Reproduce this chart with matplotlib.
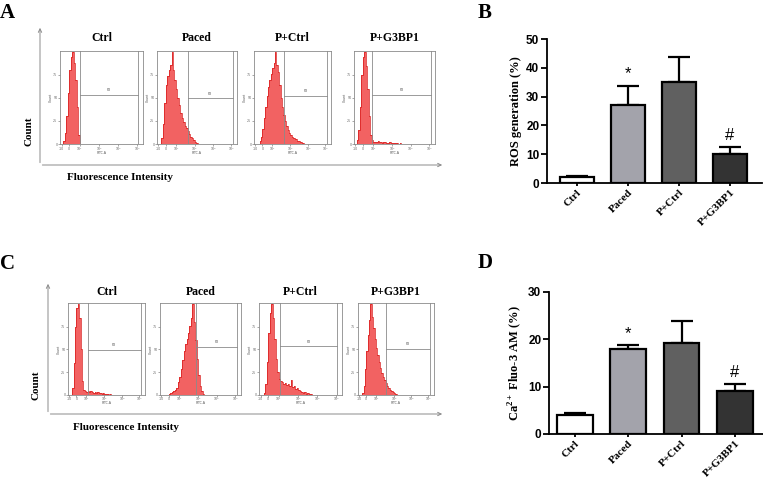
import numpy as np
import matplotlib
matplotlib.use("Agg")
import matplotlib.pyplot as plt

# ── figure geometry (pixels) ─────────────────────────────────────────────────
W, H = 763, 480
SERIF = "Liberation Serif"
SANS = "Liberation Sans"

# ── bar chart data ───────────────────────────────────────────────────────────
GROUPS = ["Ctrl", "Paced", "P+Ctrl", "P+G3BP1"]
ROS_MEAN = [2.0, 27.2, 35.2, 10.0]
ROS_ERR = [0.5, 6.6, 8.6, 2.5]
CA_MEAN = [4.1, 17.9, 19.2, 9.0]
CA_ERR = [0.4, 0.9, 4.6, 1.6]
SIG_MARKS = ["", "*", "", "#"]
BAR_COLORS = ["#ffffff", "#a3a3ab", "#606060", "#333333"]

# ── flow histograms: counts on 0.1-wide bins from 0 to 3.6 (log units) ──────
HIST_A_CTRL = [0, 3, 12, 30, 55, 80, 95, 100, 88, 70, 40, 10, 0, 0, 0, 0, 0, 0,
               0, 0, 0, 0, 0, 0, 0, 0, 0, 0, 0, 0, 0, 0, 0, 0, 0, 0]
HIST_A_PACED = [0, 0, 6, 22, 44, 64, 74, 80, 86, 100, 80, 70, 60, 50, 42, 34, 28, 24,
                20, 17, 14, 11, 8, 6, 4, 2, 1, 0, 0, 0, 0, 0, 0, 0, 0, 0]
HIST_A_PCTRL = [0, 0, 0, 3, 8, 16, 28, 40, 52, 62, 70, 76, 82, 88, 100, 86, 78, 64,
                50, 40, 31, 25, 20, 15, 12, 10, 8, 7, 5, 5, 3, 3, 2, 1, 1, 0]
HIST_A_PG3 = [0, 4, 15, 40, 75, 95, 100, 85, 60, 30, 10, 4, 2, 2, 2, 3, 2, 2,
              1, 2, 2, 1, 1, 2, 1, 1, 1, 1, 1, 0, 1, 0, 0, 0, 0, 0]
HIST_C_CTRL = [0, 0, 8, 35, 75, 95, 100, 85, 50, 15, 6, 4, 3, 4, 3, 4, 3, 2,
               3, 2, 3, 2, 2, 1, 2, 1, 1, 1, 0, 1, 0, 0, 0, 0, 0, 0]
HIST_C_PACED = [0, 0, 0, 0, 0, 1, 2, 3, 4, 5, 8, 14, 20, 28, 38, 48, 56, 62,
                68, 76, 84, 100, 80, 60, 40, 22, 10, 4, 1, 0, 0, 0, 0, 0, 0, 0]
HIST_C_PCTRL = [0, 0, 2, 12, 36, 68, 90, 100, 84, 62, 40, 25, 18, 15, 14, 12, 13, 11,
                12, 10, 16, 9, 10, 7, 8, 5, 4, 3, 2, 3, 1, 2, 1, 1, 0, 0]
HIST_C_PG3 = [0, 0, 2, 10, 28, 48, 66, 82, 100, 86, 74, 62, 52, 44, 36, 30, 24, 20,
              16, 13, 10, 8, 6, 4, 3, 2, 1, 0, 0, 0, 0, 0, 0, 0, 0, 0]
GATE_A = [1.2, 2.0, 2.05, 1.15]
GATE_C = [1.3, 2.35, 1.3, 1.9]
HLINE_A = [0.53, 0.49, 0.52, 0.53]
HLINE_C = [0.49, 0.52, 0.53, 0.50]
FLOW_TICKS = [0.0, 0.5, 1.2, 2.5, 3.75, 5.0]
FLOW_TICKLABELS = ["-10", "0", "10¹", "10²", "10³", "10⁴"]

FILL = "#f26262"
EDGE = "#d81818"
GREY = "#8a8a8a"

fig = plt.figure(figsize=(W / 100, H / 100), dpi=100)


def px_axes(left, top, right, bottom):
    return fig.add_axes([left / W, 1 - bottom / H, (right - left) / W, (bottom - top) / H])


# overlay in pixel coordinates for labels and arrows
ov = fig.add_axes([0, 0, 1, 1])
ov.set_xlim(0, W)
ov.set_ylim(H, 0)
ov.axis("off")


def flow_panel(left, top, right, bottom, counts, gate, hline):
    ax = px_axes(left, top, right, bottom)
    edges = np.round(np.arange(len(counts) + 1) * 0.1, 2)
    ax.stairs(counts, edges, fill=True, facecolor=FILL, edgecolor="none")
    ax.stairs(counts, edges, baseline=None, color=EDGE, lw=0.5)
    ax.set_xlim(-0.1, 5.4)
    ax.set_ylim(0, 101)
    ax.axvline(gate, color=GREY, lw=0.6)
    ax.axvline(5.1, color=GREY, lw=0.6)
    ax.plot([gate, 5.1], [hline * 101] * 2, color=GREY, lw=0.6)
    ax.text((gate + 5.1) / 2, hline * 101 + 3, "P2", fontsize=2.5, color="#555",
            ha="center", va="bottom")
    for s in ax.spines.values():
        s.set_color(GREY)
        s.set_linewidth(0.6)
    ax.set_xticks(FLOW_TICKS)
    ax.set_xticklabels(FLOW_TICKLABELS)
    ax.set_yticks([0, 25, 50, 75])
    ax.set_yticklabels(["0", "25", "50", "75"])
    ax.tick_params(labelsize=2.3, length=1.2, width=0.4, pad=0.6, colors="#666")
    ax.set_xlabel("FITC-A", fontsize=2.3, labelpad=0, color="#555")
    ax.set_ylabel("Count", fontsize=2.3, labelpad=0.5, color="#555")
    return ax


def flow_row(boxes, top, bottom, hists, gates, hlines, title_y):
    for (l, r), h, g, hl, name in zip(boxes, hists, gates, hlines, GROUPS):
        flow_panel(l, top, r, bottom, h, g, hl)
        ov.text((l + r) / 2, title_y, name, fontsize=8.5, fontweight="bold",
                family=SERIF, ha="center", va="center")


def arrows(x0, y_top, y0, x_end):
    style = dict(arrowstyle="->,head_length=0.25,head_width=0.12", color=GREY, lw=0.7)
    ov.annotate("", xy=(x0, y_top), xytext=(x0, y0 + 0.4), arrowprops=style)
    ov.annotate("", xy=(x_end, y0), xytext=(x0 - 0.4, y0), arrowprops=style)


def bar_panel(left, top, right, bottom, means, errs, ymax, yticks, ylabel, xlim):
    ax = px_axes(left, top, right, bottom)
    x = np.arange(len(GROUPS))
    ax.bar(x, means, width=0.67, color=BAR_COLORS, edgecolor="k", linewidth=1.6, zorder=3)
    ax.errorbar(x, means, yerr=[np.zeros(len(errs)), errs], fmt="none", ecolor="k",
                elinewidth=1.6, capsize=8, capthick=1.6, zorder=2)
    for xi, m, e, mk in zip(x, means, errs, SIG_MARKS):
        if mk:
            ax.annotate(mk, (xi, m + e), xytext=(0, 3), textcoords="offset points",
                        ha="center", va="bottom", fontsize=12, family=SANS)
    ax.set_xlim(*xlim)
    ax.set_ylim(0, ymax)
    ax.set_yticks(yticks)
    ax.set_xticks(x)
    ax.set_xticklabels(GROUPS, rotation=45, ha="right", va="top", rotation_mode="anchor",
                       fontsize=8, fontweight="bold", family=SERIF)
    for lab in ax.get_yticklabels():
        lab.set_fontweight("bold")
        lab.set_family(SANS)
        lab.set_fontsize(8.5)
    ax.spines[["top", "right"]].set_visible(False)
    ax.spines[["left", "bottom"]].set_linewidth(1.3)
    ax.tick_params(axis="y", length=4, width=1.3, pad=1.5)
    ax.tick_params(axis="x", length=2.5, width=1.3, pad=1)
    ax.set_ylabel(ylabel, fontsize=9, fontweight="bold", family=SERIF, labelpad=3)
    return ax


plt.rcParams["mathtext.fontset"] = "custom"
plt.rcParams["mathtext.rm"] = SERIF
plt.rcParams["mathtext.bf"] = SERIF + ":bold"

# ── Panel A ──────────────────────────────────────────────────────────────────
flow_row([(60, 143), (157, 237), (254, 331), (354, 435)], 51, 144,
         [HIST_A_CTRL, HIST_A_PACED, HIST_A_PCTRL, HIST_A_PG3], GATE_A, HLINE_A, 38)
arrows(40, 25, 165, 445)
ov.text(29, 131, "Count", rotation=90, fontsize=8, fontweight="bold", family=SERIF,
        ha="center", va="center")
ov.text(120, 178, "Fluorescence Intensity", fontsize=8, fontweight="bold", family=SERIF,
        ha="center", va="center")

# ── Panel C ──────────────────────────────────────────────────────────────────
flow_row([(68, 145), (160, 241), (259, 342), (358, 434)], 303, 395,
         [HIST_C_CTRL, HIST_C_PACED, HIST_C_PCTRL, HIST_C_PG3], GATE_C, HLINE_C, 292)
arrows(48, 281, 414, 445)
ov.text(36, 385, "Count", rotation=90, fontsize=8, fontweight="bold", family=SERIF,
        ha="center", va="center")
ov.text(126, 427, "Fluorescence Intensity", fontsize=8, fontweight="bold", family=SERIF,
        ha="center", va="center")

# ── Panels B and D ───────────────────────────────────────────────────────────
bar_panel(547, 39, 762, 183, ROS_MEAN, ROS_ERR, 50, [0, 10, 20, 30, 40, 50],
          "ROS generation (%)", (-0.59, 3.63))
bar_panel(549, 292, 763, 434, CA_MEAN, CA_ERR, 30, [0, 10, 20, 30],
          r"Ca$^{\mathbf{2+}}$ Fluo-3 AM (%)", (-0.49, 3.53))

# ── panel letters ────────────────────────────────────────────────────────────
for letter, lx, ly in [("A", 0, 3), ("B", 478, 3), ("C", 0, 254), ("D", 478, 253)]:
    ov.text(lx, ly, letter, fontsize=15, fontweight="bold", family=SERIF,
            ha="left", va="top")

fig.savefig("out.png", dpi=100)
